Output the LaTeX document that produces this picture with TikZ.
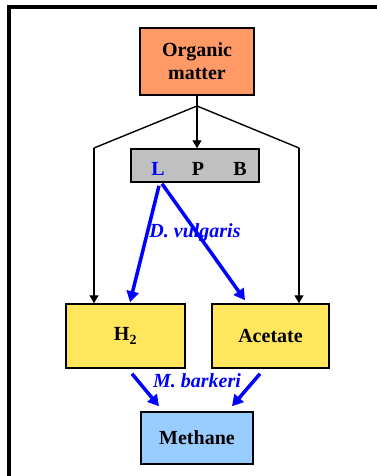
\documentclass[tikz,border=0pt]{standalone}
\usepackage{fontspec}
\setmainfont{Liberation Serif}
\usetikzlibrary{arrows.meta,calc}
\definecolor{orgfill}{RGB}{255,153,102}
\definecolor{lpbfill}{RGB}{192,192,192}
\definecolor{prodfill}{RGB}{255,230,92}
\definecolor{ch4fill}{RGB}{153,204,255}
\definecolor{microbe}{RGB}{0,0,255}
\tikzset{
  box/.style={draw=black, line width=1.5pt, inner sep=0pt, align=center,
    font=\fontsize{20}{23}\selectfont\bfseries},
  flow/.style={line width=1.4pt, -{Triangle[length=8pt,width=9pt]}},
  feed/.style={line width=1.4pt},
  microarrow/.style={draw=microbe, line width=3.5pt, -{Triangle[length=11pt,width=12pt]}},
  microlabel/.style={text=microbe, font=\fontsize{20}{23}\selectfont\bfseries\itshape, inner sep=0pt},
  lpbletter/.style={font=\fontsize{20}{23}\selectfont\bfseries, inner sep=0pt}
}
\begin{document}
\begin{tikzpicture}[x=1pt,y=-1pt]
\useasboundingbox (0,0) rectangle (377,476);
% outer frame (left and top edges)
\draw[line width=4pt] (9,480) -- (9,7) -- (380,7);

% boxes
\node[box, fill=orgfill, minimum width=114pt, minimum height=67pt] (org) at (197,61.5) {Organic\\matter};
\node[box, fill=lpbfill, minimum width=128pt, minimum height=33pt] (lpb) at (195,165.5) {};
\node[lpbletter, text=microbe] (L) at (158,169) {L};
\node[lpbletter] (P) at (198,169) {P};
\node[lpbletter] (B) at (240,169) {B};
\node[box, fill=prodfill, minimum width=119pt, minimum height=64pt] (h2) at (125.5,336) {H\textsubscript{2}};
\node[box, fill=prodfill, minimum width=117pt, minimum height=64pt] (ac) at (270.5,336) {Acetate};
\node[box, fill=ch4fill, minimum width=112pt, minimum height=52pt] (ch4) at (197,438) {Methane};

% branching from organic matter
\coordinate (split) at (197,106);
\coordinate (lbend) at (94,148);
\coordinate (rbend) at (299,148);
\draw[flow] (org.south) -- (org.south |- lpb.north);
\draw[feed, line join=round] (lbend) -- (split) -- (rbend);
\draw[flow] (lbend) -- (lbend |- h2.north);
\draw[flow] (rbend) -- (rbend |- ac.north);

% D. vulgaris
\draw[microarrow] ($(lpb.south)+(-36,3)$) -- ($(h2.north)+(4.5,-1)$);
\draw[microarrow] ($(lpb.south)+(-33,1)$) -- ($(ac.north)+(-25.5,-3)$);
\node[microlabel] (dv) at (195,233) {D. vulgaris};

% M. barkeri
\draw[microarrow] ($(h2.south)+(6.5,5)$) -- ($(ch4.north)+(-38,-5)$);
\draw[microarrow] ($(ac.south)+(-10.5,5)$) -- ($(ch4.north)+(35,-5)$);
\node[microlabel] (mb) at (197,381) {M. barkeri};
\end{tikzpicture}
\end{document}
